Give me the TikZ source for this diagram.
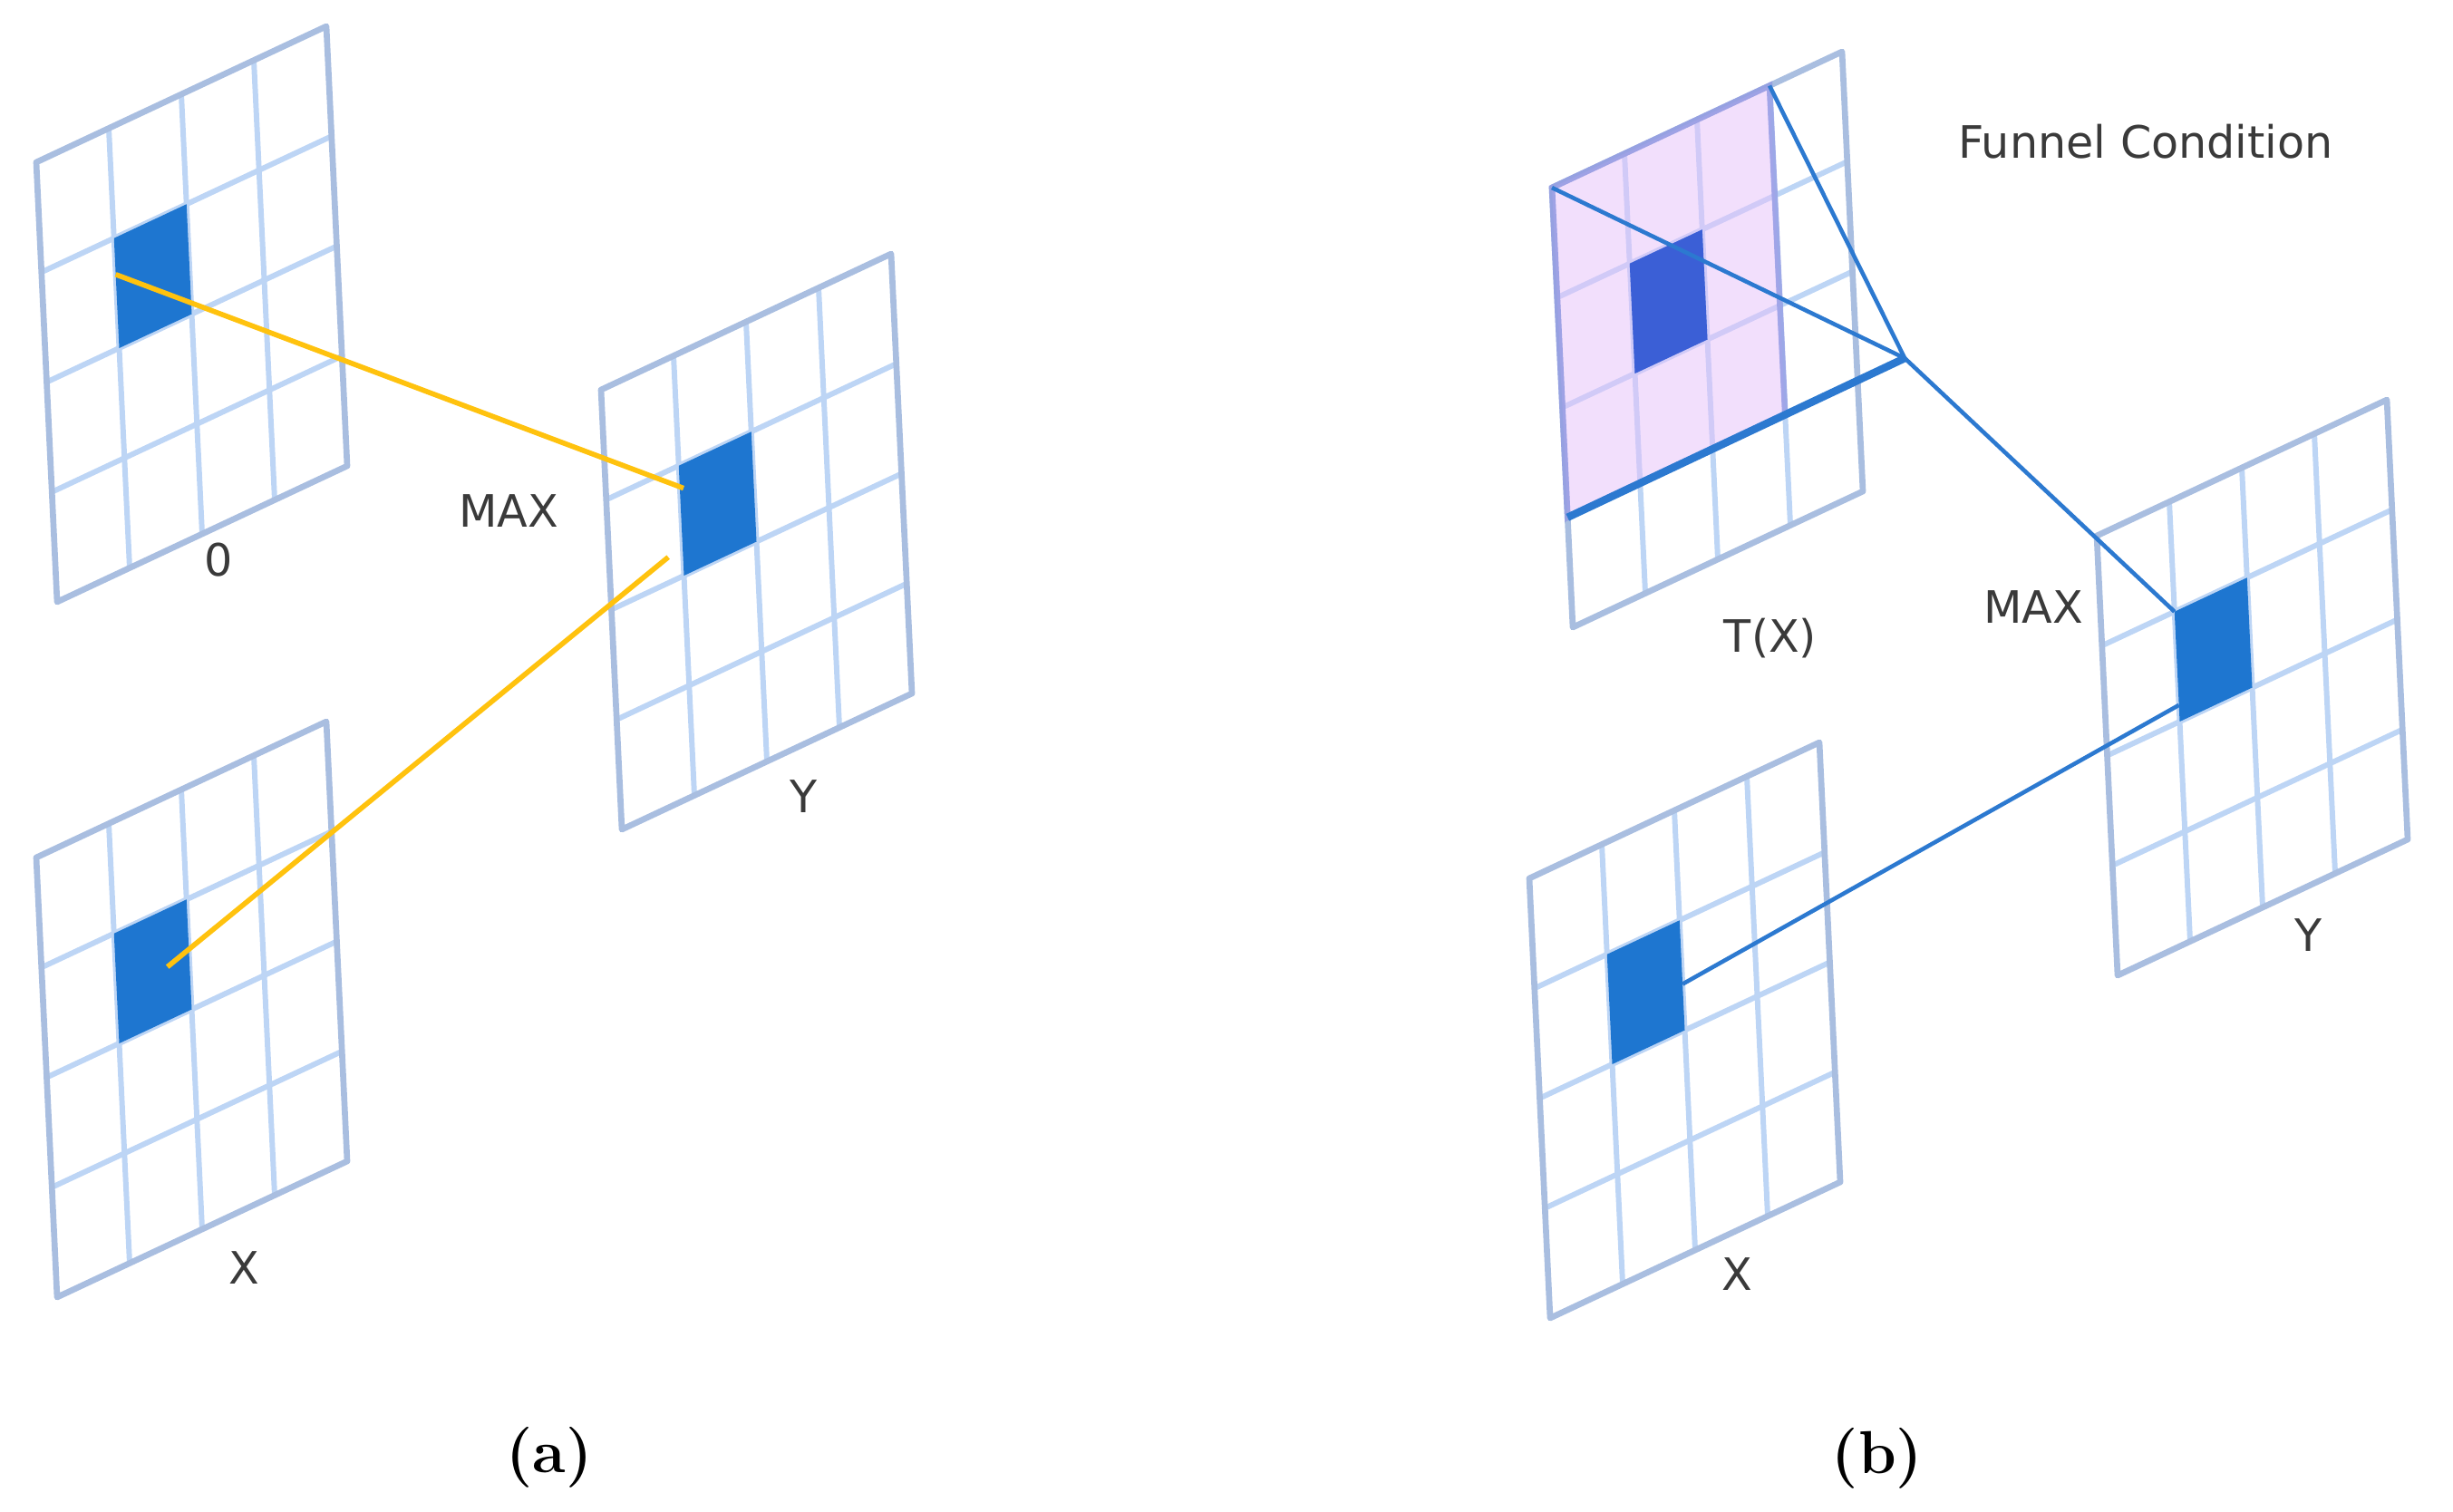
\documentclass[tikz,border=0pt]{standalone}
\usepackage{fontspec}
\setsansfont{DejaVu Sans}
\usetikzlibrary{calc}
\definecolor{gridblue}{HTML}{BDD5F5}
\definecolor{rimgray}{HTML}{A9BEE0}
\definecolor{cellblue}{HTML}{1E76D0}
\definecolor{royal}{HTML}{3B5FD6}
\definecolor{pinkfill}{HTML}{E6C0FA}
\definecolor{pinkrim}{HTML}{8E96E2}
\definecolor{linkblue}{HTML}{2C79D0}
\definecolor{amber}{HTML}{FFC20E}
\definecolor{textgray}{HTML}{3A3A3A}

\begin{document}
\begin{tikzpicture}[x=1cm, y=-1cm,
    sheet/.style={x={(0.80cm,0.375cm)}, y={(0.0575cm,-1.2125cm)}},
    gridline/.style={draw=gridblue, line width=1.7pt},
    rim/.style={draw=rimgray, line width=1.9pt, line join=round},
    lbl/.style={font=\sffamily\fontsize{14}{16}\selectfont, text=textgray, inner sep=0pt},
    subcap/.style={font=\fontsize{19}{22}\selectfont\bfseries, inner sep=0pt},
    maxlink/.style={draw=amber, line width=1.6pt},
    funnel/.style={draw=linkblue, line width=1.3pt},
    sheetgrid/.pic={
      \foreach \k in {1,2,3} {
        \draw[gridline] (\k,0) -- (\k,4);
        \draw[gridline] (0,\k) -- (4,\k);
      }
      \draw[rim] (0,0) -- (4,0) -- (4,4) -- (0,4) -- cycle;
      \fill[cellblue] (1,1) -- (2,1) -- (2,2) -- (1,2) -- cycle;
    },
  ]
  \useasboundingbox (0,0) rectangle (27.06,16.67);

  % (a): O and X both feed the max in Y
  \begin{scope}[shift={(0.40,1.79)}, sheet]
    \pic {sheetgrid};
    \coordinate (O-out) at (1,1.33);
  \end{scope}
  \begin{scope}[shift={(0.40,9.46)}, sheet]
    \pic {sheetgrid};
    \coordinate (Xa-out) at (1.7,1.52);
  \end{scope}
  \begin{scope}[shift={(6.63,4.30)}, sheet]
    \pic {sheetgrid};
    \coordinate (Ya-in1) at (1.05,1.22);
    \coordinate (Ya-in2) at (0.8,1.77);
  \end{scope}

  \draw[maxlink] (O-out) -- (Ya-in1);
  \draw[maxlink] (Xa-out) -- (Ya-in2);

  \node[lbl] (O-lbl) at (2.41,6.18) {0};
  \node[lbl] (maxa) at (5.61,5.64) {MAX};
  \node[lbl] (Ya-lbl) at (8.87,8.79) {Y};
  \node[lbl] (Xa-lbl) at (2.69,13.99) {X};
  \node[subcap] (capa) at (6.06,16.08) {(a)};

  % (b): the funnel over T(X) replaces the second input
  \begin{scope}[shift={(17.12,2.07)}, sheet]
    \pic {sheetgrid};
    \filldraw[fill=pinkfill, draw=pinkrim, fill opacity=0.5, draw opacity=0.7, line width=1.9pt]
      (0,0) -- (3,0) -- (3,3) -- (0,3) -- cycle;
    \fill[royal] (1,1) -- (2,1) -- (2,2) -- (1,2) -- cycle;
    \coordinate (T-a) at (0,0);
    \coordinate (T-b) at (3,0);
    \coordinate (T-c) at (0,3);
    \coordinate (T-apex) at (4.65,2.99);
  \end{scope}
  \begin{scope}[shift={(23.13,5.91)}, sheet]
    \pic {sheetgrid};
    \coordinate (Yb-in1) at (1,1);
    \coordinate (Yb-in2) at (1,1.85);
  \end{scope}
  \begin{scope}[shift={(16.87,9.69)}, sheet]
    \pic {sheetgrid};
    \coordinate (Xb-out) at (2,1.58);
  \end{scope}

  \draw[funnel] (T-a) -- (T-apex);
  \draw[funnel] (T-b) -- (T-apex);
  \draw[funnel, line width=2.4pt] (T-c) -- (T-apex);
  \draw[funnel] (T-apex) -- (Yb-in1);
  \draw[funnel] (Xb-out) -- (Yb-in2);

  \node[lbl] (funnel-lbl) at (23.67,1.56) {Funnel Condition};
  \node[lbl] (T-lbl) at (19.53,7.04) {T(X)};
  \node[lbl] (maxb) at (22.43,6.70) {MAX};
  \node[lbl] (Yb-lbl) at (25.46,10.32) {Y};
  \node[lbl] (Xb-lbl) at (19.16,14.06) {X};
  \node[subcap] (capb) at (20.71,16.09) {(b)};
\end{tikzpicture}
\end{document}
